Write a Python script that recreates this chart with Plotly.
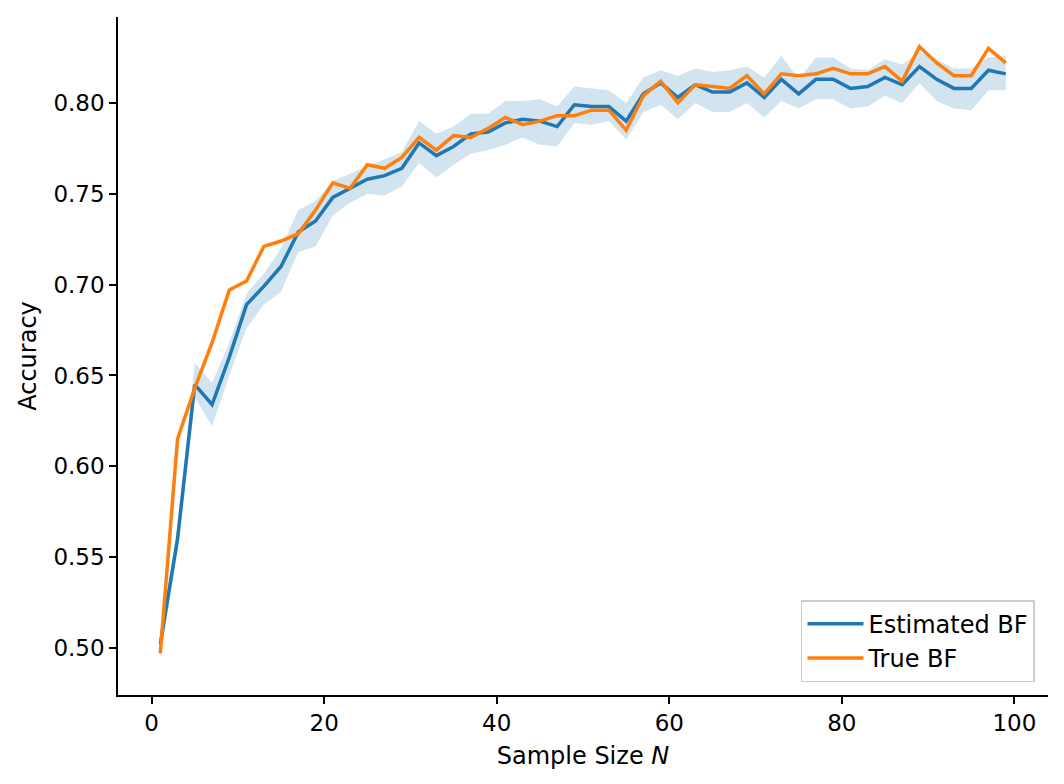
import plotly.graph_objects as go

# sample sizes
n_vals = list(range(1, 100, 2))

est_bf = [0.502, 0.560, 0.645, 0.634, 0.660, 0.689, 0.699, 0.710, 0.729, 0.735,
          0.748, 0.753, 0.758, 0.760, 0.764, 0.778, 0.771, 0.776, 0.783, 0.784,
          0.789, 0.791, 0.790, 0.787, 0.799, 0.798, 0.798, 0.790, 0.805, 0.811,
          0.803, 0.810, 0.806, 0.806, 0.811, 0.803, 0.813, 0.805, 0.813, 0.813,
          0.808, 0.809, 0.814, 0.810, 0.820, 0.813, 0.808, 0.808, 0.818, 0.816]

est_lo = [0.494, 0.553, 0.638, 0.622, 0.650, 0.676, 0.689, 0.696, 0.718, 0.721,
          0.738, 0.745, 0.750, 0.749, 0.754, 0.767, 0.759, 0.766, 0.772, 0.774,
          0.777, 0.781, 0.777, 0.776, 0.789, 0.788, 0.790, 0.780, 0.795, 0.799,
          0.791, 0.800, 0.795, 0.795, 0.800, 0.792, 0.801, 0.797, 0.802, 0.802,
          0.797, 0.798, 0.804, 0.800, 0.811, 0.801, 0.797, 0.796, 0.807, 0.807]

est_hi = [0.508, 0.567, 0.657, 0.646, 0.668, 0.695, 0.706, 0.720, 0.741, 0.746,
          0.757, 0.761, 0.765, 0.769, 0.773, 0.790, 0.783, 0.787, 0.794, 0.794,
          0.801, 0.801, 0.802, 0.798, 0.809, 0.808, 0.807, 0.800, 0.814, 0.818,
          0.815, 0.819, 0.817, 0.818, 0.820, 0.814, 0.826, 0.813, 0.825, 0.825,
          0.819, 0.818, 0.824, 0.821, 0.828, 0.824, 0.819, 0.819, 0.825, 0.826]

true_bf = [0.497, 0.615, 0.643, 0.668, 0.697, 0.702, 0.721, 0.724, 0.728, 0.741,
           0.756, 0.753, 0.766, 0.764, 0.770, 0.781, 0.774, 0.782, 0.781, 0.786,
           0.792, 0.788, 0.790, 0.793, 0.793, 0.796, 0.796, 0.785, 0.804, 0.812,
           0.800, 0.810, 0.809, 0.808, 0.815, 0.805, 0.816, 0.815, 0.816, 0.819,
           0.816, 0.816, 0.820, 0.812, 0.831, 0.822, 0.815, 0.815, 0.830, 0.822]

x_ticks = [0, 20, 40, 60, 80, 100]
y_ticks = [0.50, 0.55, 0.60, 0.65, 0.70, 0.75, 0.80]

fig = go.Figure()

# uncertainty band for the estimate
fig.add_trace(go.Scatter(x=n_vals, y=est_lo, mode="lines", line=dict(width=0),
                         showlegend=False, hoverinfo="skip"))
fig.add_trace(go.Scatter(x=n_vals, y=est_hi, mode="lines", line=dict(width=0),
                         fill="tonexty", fillcolor="rgba(31,119,180,0.2)",
                         showlegend=False, hoverinfo="skip"))

fig.add_trace(go.Scatter(x=n_vals, y=est_bf, mode="lines", name="Estimated BF",
                         line=dict(color="#1f77b4", width=3.5)))
fig.add_trace(go.Scatter(x=n_vals, y=true_bf, mode="lines", name="True BF",
                         line=dict(color="#ff7f0e", width=3.5)))

axis_style = dict(
    showgrid=False, zeroline=False, showline=True, linecolor="black", linewidth=1.5,
    ticks="outside", ticklen=7, tickwidth=1.5, tickcolor="black",
    tickfont=dict(size=23, color="black"), mirror=False, automargin=False,
)

fig.update_xaxes(range=[-3.9, 103.9], tickvals=x_ticks,
                 title=dict(text="Sample Size <i>N</i>", font=dict(size=24, color="black"),
                            standoff=12),
                 **axis_style)
fig.update_yaxes(range=[0.4741, 0.8473], tickvals=y_ticks, tickformat=".2f",
                 title=dict(text="Accuracy", font=dict(size=24, color="black"), standoff=10),
                 **axis_style)

# margins offset by the 8px page margin of the html body
fig.update_layout(
    width=1064, height=784,
    margin=dict(l=110, r=24, t=9, b=97),
    plot_bgcolor="white", paper_bgcolor="white",
    font=dict(family="DejaVu Sans", color="black"),
    legend=dict(x=0.986, y=0.019, xanchor="right", yanchor="bottom",
                traceorder="normal", itemwidth=56,
                bgcolor="rgba(255,255,255,0.8)", bordercolor="#cccccc", borderwidth=1.5,
                font=dict(size=24), tracegroupgap=0),
)

fig.write_html("out.html")
